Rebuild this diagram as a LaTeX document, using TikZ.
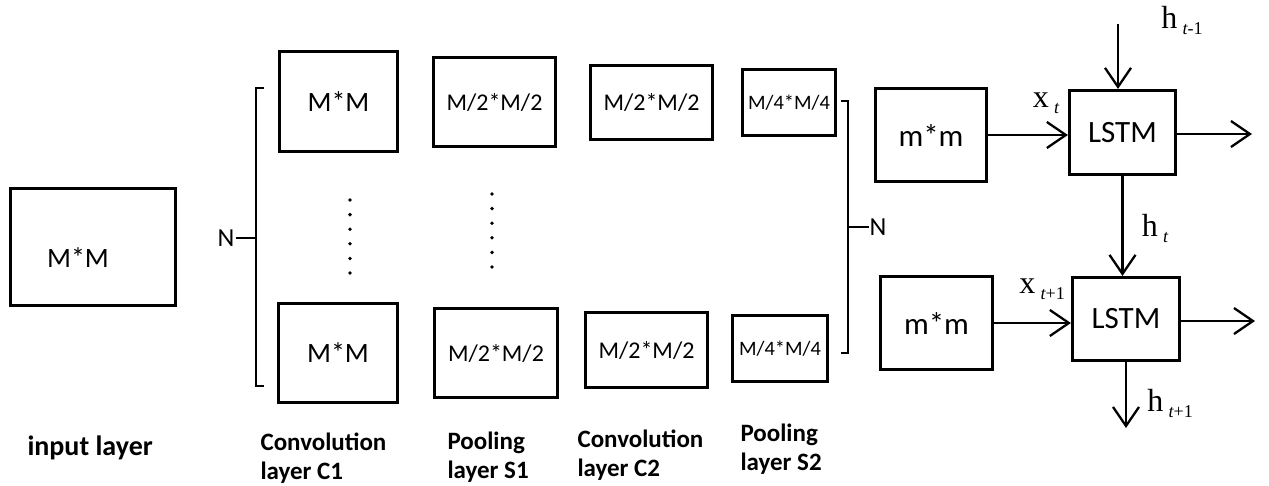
\documentclass[tikz,border=0pt]{standalone}
\usepackage{fontspec}
\setmainfont{Carlito}
\newfontfamily\tms{Liberation Serif}
\usetikzlibrary{arrows.meta}
\newcommand\fsz[1]{\fontsize{#1}{#1}\selectfont}
\newcommand\subs[1]{\raisebox{-6pt}{\fsz{18}#1}}
\begin{document}
\begin{tikzpicture}[x=1pt,y=-1pt,
  box/.style={draw, line width=3.2pt, inner sep=0pt, anchor=center},
  arr/.style={line width=2.3pt, -{Straight Barb[length=19pt,width=26pt,line width=2.3pt]}},
  brk/.style={line width=2.3pt},
  captxt/.style={font=\fsz{25}\bfseries, align=left, anchor=west},
  sym/.style={font=\tms\fsz{32}, inner sep=0pt}
]
\useasboundingbox (0,0) rectangle (1269,485);
% input
\node[box, minimum width=165pt, minimum height=117pt,
  label={[font=\fsz{28}, xshift=-15pt, yshift=-11pt]center:M*M}] (in) at (93,247) {};
% conv C1
\node[box, minimum width=118pt, minimum height=100pt, font=\fsz{28}] (c1a) at (338.5,101.5) {M*M};
\node[box, minimum width=119pt, minimum height=99pt, font=\fsz{28}] (c1b) at (338,353) {M*M};
% pool S1
\node[box, minimum width=122pt, minimum height=89pt, font=\fsz{24}] (s1a) at (494.5,102) {M/2*M/2};
\node[box, minimum width=123pt, minimum height=89pt, font=\fsz{24}] (s1b) at (496,353) {M/2*M/2};
% conv C2
\node[box, minimum width=122pt, minimum height=74pt, font=\fsz{24}] (c2a) at (651.5,102.5) {M/2*M/2};
\node[box, minimum width=122pt, minimum height=75pt, font=\fsz{24}] (c2b) at (646.5,350) {M/2*M/2};
% pool S2
\node[box, minimum width=93pt, minimum height=66pt, font=\fsz{20.5}] (s2a) at (789,102.5) {M/4*M/4};
\node[box, minimum width=95pt, minimum height=66pt, font=\fsz{20.5}] (s2b) at (780,348.5) {M/4*M/4};
% m*m
\node[box, minimum width=111pt, minimum height=93pt, font=\fsz{31}] (ma) at (931,135) {m*m};
\node[box, minimum width=112pt, minimum height=93pt, font=\fsz{31}] (mb) at (936.5,323) {m*m};
% LSTM
\node[box, minimum width=106pt, minimum height=84pt, font=\fsz{31}] (la) at (1122.5,132.5) {LSTM};
\node[box, minimum width=107pt, minimum height=83pt, font=\fsz{31}] (lb) at (1126,319) {LSTM};

% dots
\foreach \i in {0,...,5} {
  \fill (350,200+14.6*\i) circle (1.9pt);
  \fill (492,194+14.6*\i) circle (1.9pt);
}

% left bracket
\node[font=\fsz{26}, inner sep=0pt] (nl) at (226,238) {N};
\draw[brk] (264,88) -- (256,88) -- (256,386) -- (264,386);
\draw[brk] (nl.east) ++(1pt,0) -- (256,238);
% right bracket
\node[font=\fsz{26}, inner sep=0pt] (nr) at (878,227) {N};
\draw[brk] (841,101) -- (848,101) -- (848,353) -- (841,353);
\draw[brk] (848,227) -- (nr.west);

% connectors
\coordinate (hin) at (1118,24);
\coordinate (oa) at (1252,134);
\coordinate (ob) at (1255,321);
\coordinate (hout) at (1126,428);
\draw[arr] (ma.east) -- (ma.east -| la.west);
\draw[arr] (mb.east) -- (mb.east -| lb.west);
\draw[arr] (oa -| la.east) -- (oa);
\draw[arr] (ob -| lb.east) -- (ob);
\draw[arr] (hin) -- (hin |- la.north);
\draw[arr] (la.south) -- (la.south |- lb.north);
\draw[arr] (lb.south) -- (lb.south |- hout);

% symbol labels
\node[sym] (lht1) at (1182,20) {h\,\subs{\itshape t\upshape -1}};
\node[sym] (lxt) at (1046,103) {x\,\subs{\itshape t}};
\node[sym] (lht) at (1155,228) {h\,\subs{\itshape t}};
\node[sym] (lxt1) at (1042,289) {x\,\subs{\itshape t\upshape +1}};
\node[sym] (lht2) at (1170,403) {h\,\subs{\itshape t\upshape +1}};

% captions
\node[captxt, font=\fsz{28}\bfseries] (capin) at (24,448) {input layer};
\node[captxt] (capc1) at (257,458) {Convolution\\[4pt]layer C1};
\node[captxt] (caps1) at (444,457) {Pooling\\[4pt]layer S1};
\node[captxt] (capc2) at (574,455) {Convolution\\[4pt]layer C2};
\node[captxt] (caps2) at (737,449) {Pooling\\[4pt]layer S2};
\end{tikzpicture}
\end{document}
